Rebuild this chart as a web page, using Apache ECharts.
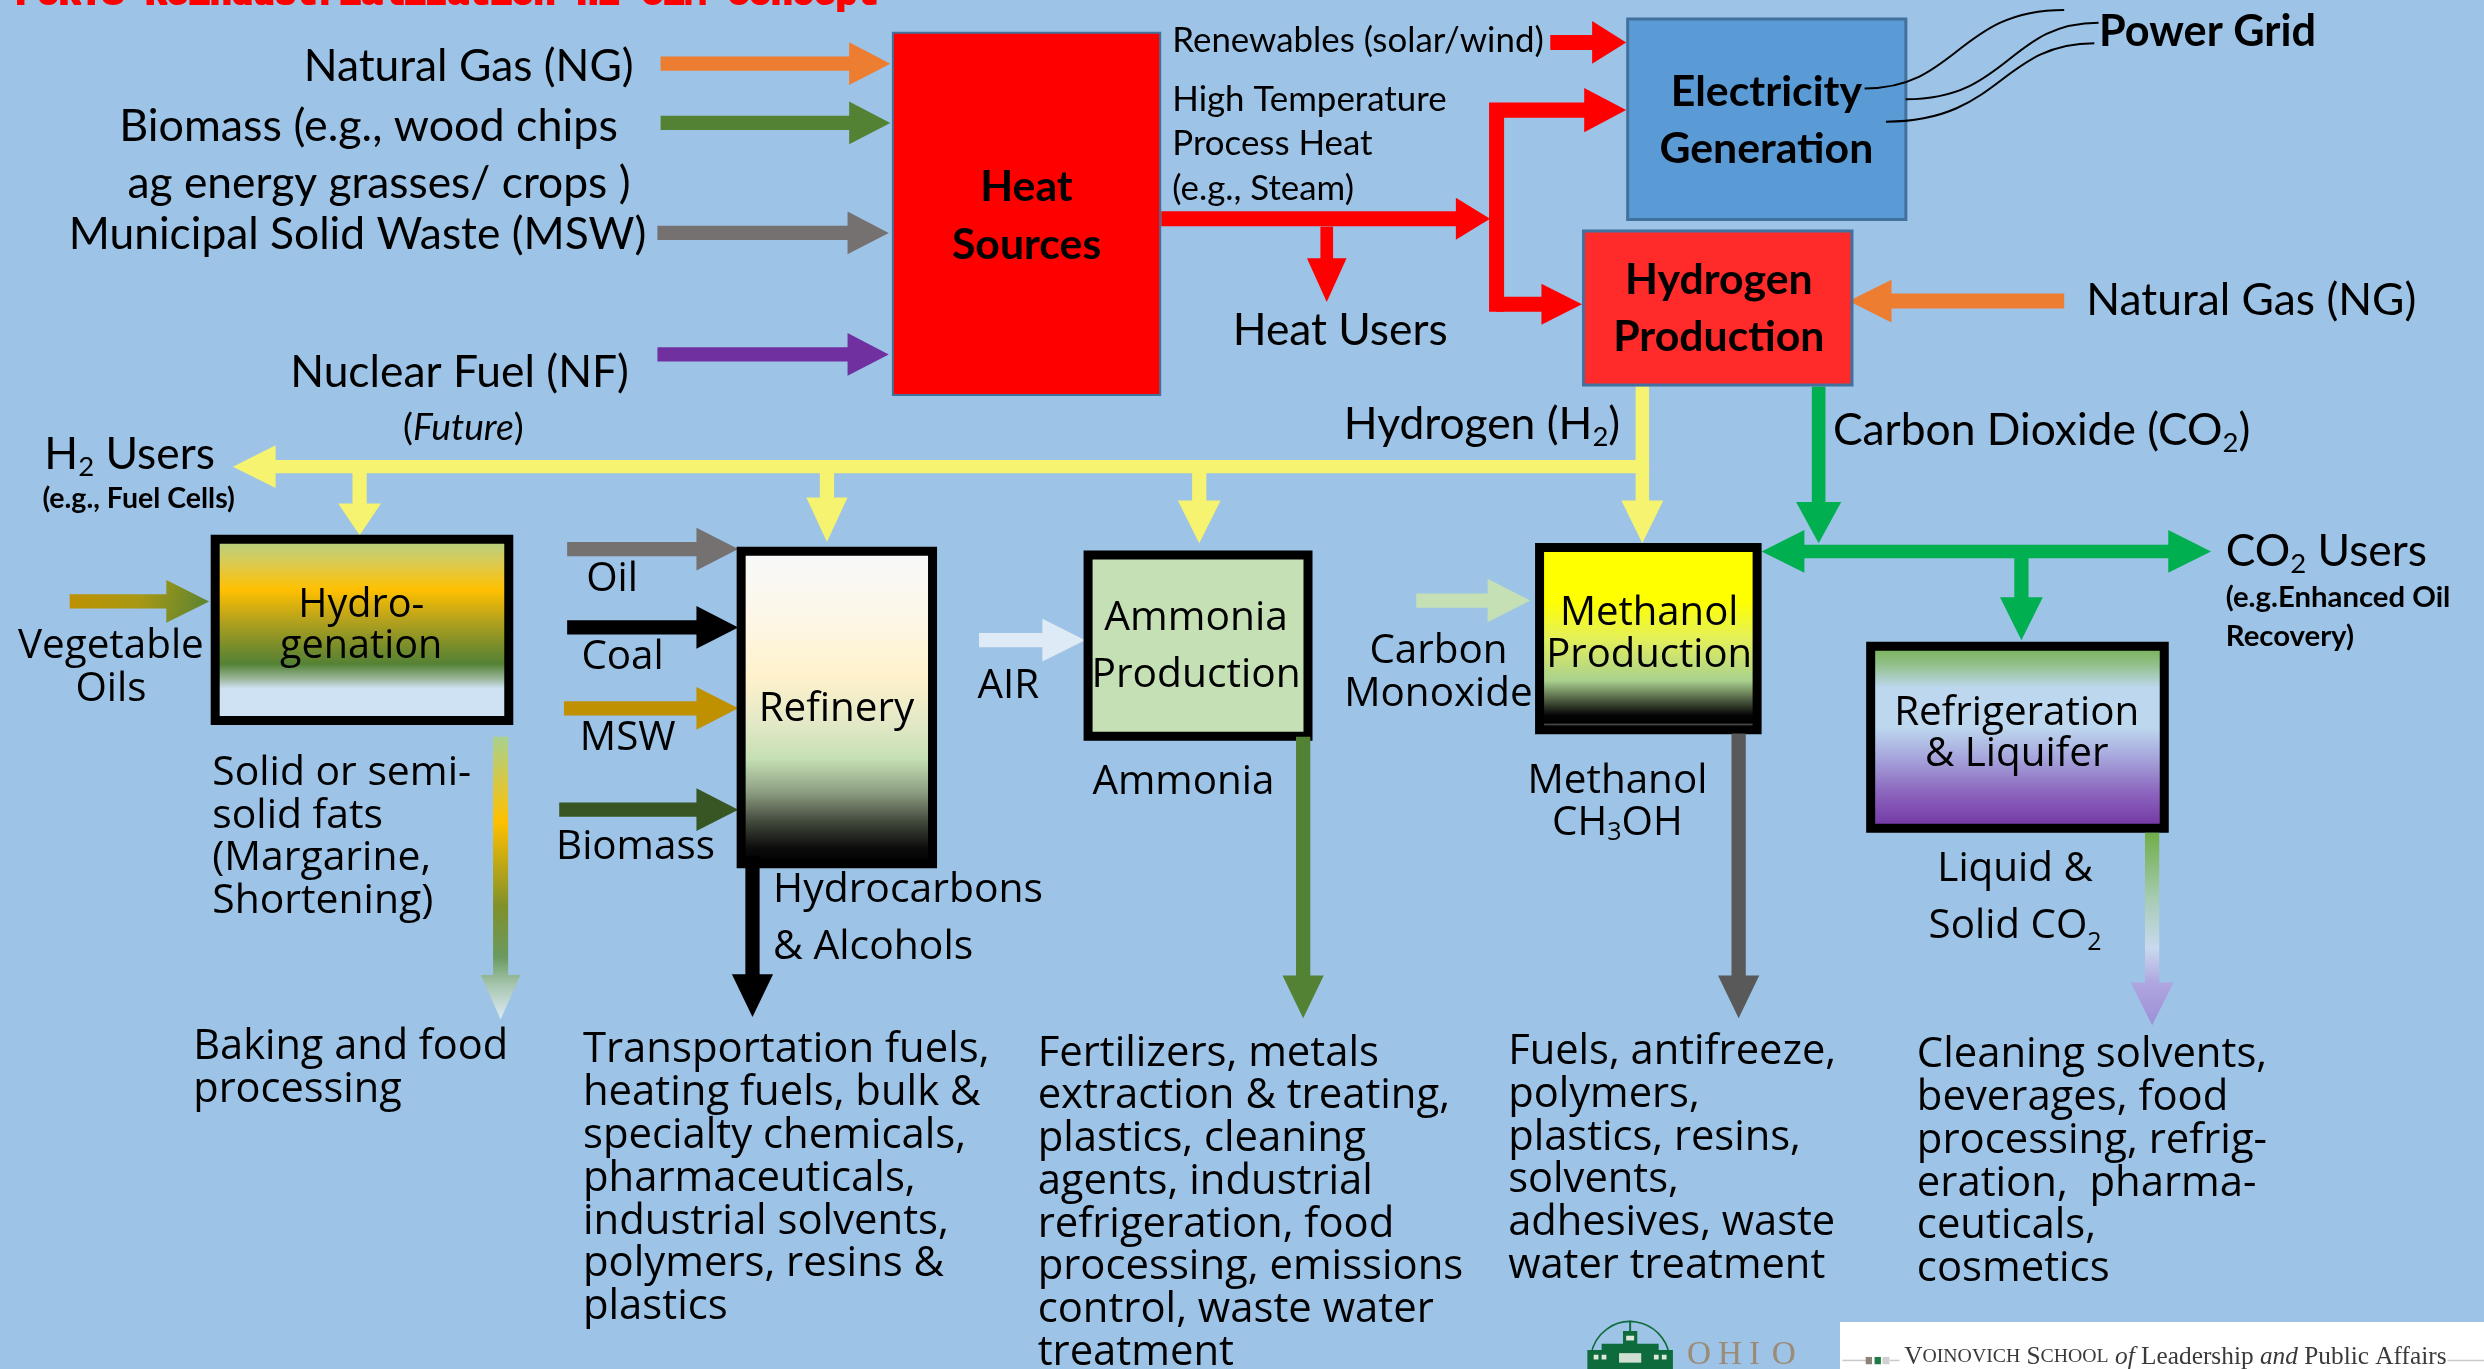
<!DOCTYPE html>
<html><head><meta charset="utf-8">
<script src="https://cdn.jsdelivr.net/npm/echarts@6/dist/echarts.min.js"></script>
<style>html,body{margin:0;padding:0;background:#9DC3E6;overflow:hidden}#c{width:2484px;height:1369px;}</style>
</head><body><div id="c"></div>
<script>
// ---------- diagram content (text values) ----------
const title = 'PORTS Reindustrialization H2 CEM Concept';
const heatFeeds = ['Natural Gas (NG)', 'Biomass (e.g., wood chips', 'ag energy grasses/ crops )', 'Municipal Solid Waste (MSW)', 'Nuclear Fuel (NF)', '({i|Future})'];
const processes = ['Heat\nSources', 'Electricity\nGeneration', 'Hydrogen\nProduction', 'Hydro-\ngenation', 'Refinery', 'Ammonia\nProduction', 'Methanol\nProduction', 'Refrigeration\n& Liquifer'];
const heatOutputs = ['Renewables (solar/wind)', 'High Temperature', 'Process Heat', '(e.g., Steam)', 'Heat Users', 'Power Grid', 'Natural Gas (NG)'];
const streams = ['Hydrogen (H{s|2})', 'Carbon Dioxide (CO{s|2})', 'H{s|2} Users', '(e.g., Fuel Cells)', 'CO{s|2} Users', '(e.g.Enhanced Oil\nRecovery)'];
const refineryFeeds = ['Oil', 'Coal', 'MSW', 'Biomass'];
const processFeeds = ['Vegetable\nOils', 'AIR', 'Carbon\nMonoxide'];
const products = ['Solid or semi-\nsolid fats\n(Margarine,\nShortening)', 'Hydrocarbons\n& Alcohols', 'Ammonia', 'Methanol\nCH{s|3}OH', 'Liquid &\nSolid CO{s|2}'];
const endUses = [
  'Baking and food\nprocessing',
  'Transportation fuels,\nheating fuels, bulk &\nspecialty chemicals,\npharmaceuticals,\nindustrial solvents,\npolymers, resins &\nplastics',
  'Fertilizers, metals\nextraction & treating,\nplastics, cleaning\nagents, industrial\nrefrigeration, food\nprocessing, emissions\ncontrol, waste water\ntreatment',
  'Fuels, antifreeze,\npolymers,\nplastics, resins,\nsolvents,\nadhesives, waste\nwater treatment',
  'Cleaning solvents,\nbeverages, food\nprocessing, refrig-\neration,  pharma-\nceuticals,\ncosmetics'
];
const footer = ['{c|V}{s|OINOVICH} {c|S}{s|CHOOL} {i|of} {n|Leadership} {i|and} {n|Public Affairs}', ['O','H','I','O']];

// ---------- layout (diagram units: 1568 x 864 space) ----------
const FC = "Lato, 'Liberation Sans', sans-serif";
const FS = "'Open Sans', 'Noto Sans', sans-serif";
const els = [];
const T = (s, x, y, o) => els.push(Object.assign({t: 'text', s, x, y}, o || {}));
const A = (pts, c, o) => els.push(Object.assign({t: 'arrow', pts, c, w: 9, hl: 27, hw: 27}, o || {}));
const B = (x0, y0, x1, y1, o) => els.push(Object.assign({t: 'box', x0, y0, x1, y1}, o || {}));

// title (clipped by top edge)
T(title, 10, -3, {fs: 22.7, ff: "'Liberation Mono','DejaVu Sans Mono',monospace", fw: 'bold', fill: '#FF0000', al: 'left', heavy: true});

// heat feed arrows
A([[417, 40.2], [562, 40.2]], '#ED7D31', {hl: 26});
A([[417, 77.6], [562, 77.6]], '#548235', {hl: 26});
A([[415, 147], [561, 147]], '#767171', {hl: 26});
A([[415, 223.7], [561, 223.7]], '#7030A0', {hl: 26});
// red heat network
A([[978.6, 26.8], [1026.5, 26.8]], '#FF0000', {w: 9.5, hl: 21.5, hw: 27});
A([[733, 138], [940.6, 138]], '#FF0000', {w: 9.5, hl: 21.6, hw: 26.5});
A([[944.7, 196.8], [944.7, 69.5], [1026.5, 69.5]], '#FF0000', {w: 9.5, hl: 26.5, hw: 28});
A([[944.7, 192], [998.6, 192]], '#FF0000', {w: 9.5, hl: 25.6, hw: 26});
A([[837.5, 143], [837.5, 190.6]], '#FF0000', {w: 8, hl: 27.6, hw: 25});
// natural gas into hydrogen production
A([[1303, 190], [1167, 190]], '#ED7D31', {w: 9.5, hl: 27, hw: 27});
// hydrogen network
const Y = '#F5F36F';
A([[1036.7, 244], [1036.7, 294.5], [147, 294.5]], Y, {w: 8.5, hl: 27, hw: 27});
A([[1036.7, 292], [1036.7, 342.8]], Y, {w: 8.5, hl: 27, hw: 26.5});
A([[757, 294.5], [757, 342.8]], Y, {w: 9, hl: 27, hw: 27});
A([[522, 294.5], [522, 342]], Y, {w: 9, hl: 28, hw: 26});
A([[227, 294.5], [227, 337.8]], Y, {w: 9, hl: 20, hw: 27});
// CO2 network
const G = '#00B050';
A([[1148, 244], [1148, 342.8]], G, {w: 8.6, hl: 26, hw: 28.5});
A([[1112, 348], [1395.7, 348]], G, {w: 8.5, hl: 27, hw: 27, both: true});
A([[1276, 348], [1276, 404]], G, {w: 9, hl: 27, hw: 27});
// refinery feeds
A([[358, 346.5], [466, 346.5]], '#767171', {hl: 26.4});
A([[358, 396], [466, 396]], '#000000', {hl: 26.4});
A([[356, 447], [466, 447]], '#BF9000', {hl: 26.4});
A([[353, 511], [466, 511]], '#375623', {hl: 26.4});
// process feeds
A([[618, 404], [685, 404]], '#DEEBF7', {hl: 27});
A([[894, 379], [966, 379]], '#C5E0B4', {hl: 27, hw: 27.5});
A([[44, 379.6], [132, 379.6]], null, {hl: 27, grad: [[44, 366], [132, 393], [[0, '#BF9000'], [0.5, '#A89814'], [1, '#548235']]]});

// boxes
B(563, 20, 733, 250, {fill: '#FF0000', stroke: '#41719C', lw: 2});
B(1026.5, 11, 1204, 139.5, {fill: '#5B9BD5', stroke: '#41719C', lw: 3});
B(998.6, 144.8, 1170, 244, {fill: '#FF2A2A', stroke: '#41719C', lw: 3});
B(133, 337.5, 324, 457.5, {stroke: '#000', lw: 9, grad: [[0, '#A9D18E'], [0.14, '#D9CB55'], [0.29, '#FFC000'], [0.45, '#B5A21D'], [0.6, '#748B2C'], [0.68, '#548235'], [0.76, '#9DB99F'], [0.81, '#CFE2F3'], [1, '#CFE2F3']]});
B(465, 345, 591.5, 548, {stroke: '#000', lw: 9, grad: [[0, '#F7F9FB'], [0.2, '#FCF7EA'], [0.4, '#FFF2CC'], [0.55, '#E3E8C6'], [0.66, '#C5E0B4'], [0.76, '#8FA083'], [0.86, '#3E4539'], [0.94, '#0A0A0A'], [1, '#000000']]});
B(684, 347.5, 828.5, 467.5, {stroke: '#000', lw: 9, fill: '#C5E0B4'});
B(969, 342.7, 1112, 463.4, {stroke: '#000', lw: 9, grad: [[0, '#FFFF00'], [0.3, '#FFFF00'], [0.5, '#E4F05A'], [0.72, '#A9D18E'], [0.82, '#4F5E42'], [0.9, '#050505'], [0.94, '#000000'], [0.955, '#707070'], [0.97, '#1A1A1A'], [1, '#000000']]});
B(1178, 405, 1369, 525.5, {stroke: '#000', lw: 9, grad: [[0, '#70AD47'], [0.12, '#92C08A'], [0.24, '#BDD7EE'], [0.45, '#BDD7EE'], [0.6, '#A7A8DD'], [0.8, '#8A62BC'], [1, '#7030A0']]});

// product outputs
A([[316, 465], [316, 643.4]], null, {w: 9.5, hl: 28, hw: 25, grad: [[316, 465], [316, 643.4], [[0, '#A9D18E'], [0.3, '#FFC000'], [0.6, '#80902A'], [0.78, '#6A9A60'], [0.88, '#A8C6B0'], [1, '#DEEBF7']]]});
A([[475, 540], [475, 641.8]], '#000000', {w: 9, hl: 27, hw: 26});
A([[822.6, 465], [822.6, 642.7]], '#548235', {w: 9, hl: 27, hw: 26});
A([[1097.5, 463], [1097.5, 642.7]], '#595959', {w: 9, hl: 27, hw: 26});
A([[1358.5, 525.5], [1358.5, 647]], null, {w: 9, hl: 27, hw: 27, grad: [[1358.5, 525.5], [1358.5, 647], [[0, '#70AD47'], [0.35, '#A7CCB5'], [0.6, '#C9D9EE'], [0.78, '#AFA6DF'], [1, '#9E8ED8']]]});

// power grid wires
els.push({t: 'curve', p: [1177, 55.8, 1236, 55.8, 1236, 6.3, 1303, 6.3]});
els.push({t: 'curve', p: [1203, 62.7, 1268, 62.7, 1268, 14.3, 1324.7, 14.3]});
els.push({t: 'curve', p: [1190.5, 76.8, 1263, 76.8, 1263, 27.3, 1322, 27.3]});

// texts: heat feeds
T(heatFeeds[0], 400, 42, {ff: FC, fs: 28, al: 'right'});
T(heatFeeds[1], 390, 80, {ff: FC, fs: 28.3, al: 'right'});
T(heatFeeds[2], 398, 116, {ff: FC, fs: 28, al: 'right'});
T(heatFeeds[3], 408, 148, {ff: FC, fs: 28, al: 'right'});
T(heatFeeds[4], 397, 235, {ff: FC, fs: 28, al: 'right'});
T(heatFeeds[5], 292.5, 270, {ff: FC, fs: 23.5});
// heat outputs
T(heatOutputs[0], 740, 26, {ff: FC, fs: 22, al: 'left'});
T(heatOutputs[1], 740, 63, {ff: FC, fs: 22, al: 'left'});
T(heatOutputs[2], 740, 91, {ff: FC, fs: 22, al: 'left'});
T(heatOutputs[3], 740, 119, {ff: FC, fs: 22, al: 'left'});
T(heatOutputs[4], 846, 209, {ff: FC, fs: 28});
T(heatOutputs[5], 1325, 20, {ff: FC, fs: 27.3, fw: 'bold', al: 'left'});
T(heatOutputs[6], 1317, 190, {ff: FC, fs: 28, al: 'left'});
// process labels
T(processes[0], 648, 136.5, {ff: FC, fs: 27, fw: 'bold', lh: 37});
T(processes[1], 1115, 76, {ff: FC, fs: 27, fw: 'bold', lh: 36});
T(processes[2], 1085, 195, {ff: FC, fs: 27, fw: 'bold', lh: 36});
T(processes[3], 228, 395, {fs: 25, lh: 26});
T(processes[4], 528, 448, {fs: 25.5});
T(processes[5], 755, 408, {fs: 25.7, lh: 36});
T(processes[6], 1041, 400.5, {fs: 25.3, lh: 27});
T(processes[7], 1273, 463, {fs: 25.5, lh: 26});
// streams
T(streams[0], 935.5, 268, {ff: FC, fs: 28});
T(streams[1], 1157, 272, {ff: FC, fs: 28, al: 'left'});
T(streams[2], 28, 287, {ff: FC, fs: 28, al: 'left'});
T(streams[3], 87.5, 315, {ff: FC, fs: 18, fw: 'bold'});
T(streams[4], 1405, 348, {ff: FC, fs: 28, al: 'left'});
T(streams[5], 1405, 389.5, {ff: FC, fs: 18.5, fw: 'bold', al: 'left', lh: 25});
// refinery feeds
T(refineryFeeds[0], 370, 366, {fs: 25.5, al: 'left'});
T(refineryFeeds[1], 367, 415, {fs: 25.5, al: 'left'});
T(refineryFeeds[2], 366, 466, {fs: 25.5, al: 'left'});
T(refineryFeeds[3], 351, 535, {fs: 25.5, al: 'left'});
// process feeds
T(processFeeds[0], 70, 421.5, {fs: 25.5, lh: 27});
T(processFeeds[1], 617, 433, {fs: 25.5, al: 'left'});
T(processFeeds[2], 908, 424.5, {fs: 25.5, lh: 27});
// products
T(products[0], 134, 474.5, {fs: 25.8, lh: 27, al: 'left', va: 'top'});
T(products[1], 488, 580, {fs: 25.8, lh: 36, al: 'left'});
T(products[2], 747, 494, {fs: 25.5});
T(products[3], 1021, 506.5, {fs: 25.5, lh: 27});
T(products[4], 1272, 567, {fs: 25.5, lh: 36});
// end uses
T(endUses[0], 122, 647.5, {fs: 26.2, lh: 27, al: 'left', va: 'top'});
T(endUses[1], 368, 649.5, {fs: 26.4, lh: 27, al: 'left', va: 'top'});
T(endUses[2], 655, 651.5, {fs: 26.4, lh: 27, al: 'left', va: 'top'});
T(endUses[3], 952, 650.5, {fs: 26.3, lh: 27, al: 'left', va: 'top'});
T(endUses[4], 1210, 652.5, {fs: 26.4, lh: 27, al: 'left', va: 'top'});

// footer logos
els.push({t: 'logo'});
T(footer[0], 1202, 856.5, {ff: "'Liberation Serif','DejaVu Serif',serif", fs: 16, al: 'left', fill: '#3A3A3A', foot: true});
const ohioX = [1072.5, 1092, 1107.5, 1126];
footer[1].forEach((ch, i) => T(ch, ohioX[i], 855.5, {ff: "'Liberation Serif','DejaVu Serif',serif", fs: 21, fill: '#9C8B77'}));

// ---------- rendering ----------
function renderItem(params, api) {
  const e = els[params.dataIndex];
  const K = api.getWidth() / 1568;
  const P = (x, y) => api.coord([x, y]);
  const LG = echarts.graphic.LinearGradient;
  if (e.t === 'box') {
    const a = P(e.x0, e.y0), b = P(e.x1, e.y1), h = e.lw / 2;
    const fill = e.grad ? new LG(0, 0, 0, 1, e.grad.map(g => ({offset: g[0], color: g[1]}))) : e.fill;
    return {type: 'rect', shape: {x: a[0] + h, y: a[1] + h, width: b[0] - a[0] - e.lw, height: b[1] - a[1] - e.lw},
      style: {fill, stroke: e.stroke, lineWidth: e.lw}};
  }
  if (e.t === 'arrow') {
    const pts = e.pts.map(p => P(p[0], p[1]));
    const w = e.w * K, hl = e.hl * K, hw = e.hw * K;
    let color = e.c;
    if (e.grad) {
      const g0 = P(e.grad[0][0], e.grad[0][1]), g1 = P(e.grad[1][0], e.grad[1][1]);
      color = new LG(g0[0], g0[1], g1[0], g1[1], e.grad[2].map(g => ({offset: g[0], color: g[1]})), true);
    }
    const head = (tip, from) => {
      const dx = tip[0] - from[0], dy = tip[1] - from[1], L = Math.hypot(dx, dy), ux = dx / L, uy = dy / L;
      const bx = tip[0] - ux * hl, by = tip[1] - uy * hl;
      return {poly: [tip, [bx - uy * hw / 2, by + ux * hw / 2], [bx + uy * hw / 2, by - ux * hw / 2]],
        cut: [tip[0] - ux * (hl - 1), tip[1] - uy * (hl - 1)]};
    };
    const shaft = pts.slice();
    const children = [];
    const hE = head(pts[pts.length - 1], pts[pts.length - 2]);
    shaft[shaft.length - 1] = hE.cut;
    children.push({type: 'polygon', shape: {points: hE.poly}, style: {fill: color}});
    if (e.both) {
      const hS = head(pts[0], pts[1]);
      shaft[0] = hS.cut;
      children.push({type: 'polygon', shape: {points: hS.poly}, style: {fill: color}});
    }
    children.unshift({type: 'polyline', shape: {points: shaft}, style: {stroke: color, lineWidth: w, fill: null, lineJoin: 'miter', lineCap: 'butt'}});
    return {type: 'group', children};
  }
  if (e.t === 'curve') {
    const p = e.p, a = P(p[0], p[1]), c1 = P(p[2], p[3]), c2 = P(p[4], p[5]), b = P(p[6], p[7]);
    return {type: 'bezierCurve', shape: {x1: a[0], y1: a[1], cpx1: c1[0], cpy1: c1[1], cpx2: c2[0], cpy2: c2[1], x2: b[0], y2: b[1]},
      style: {stroke: '#000', lineWidth: 2, fill: null}};
  }
  if (e.t === 'logo') {
    const r0 = P(1161.5, 834.3), r1 = P(1568, 864);
    const gc = '#0E6B3B';
    const R = (x0, y0, x1, y1, fill) => { const a = P(x0, y0), b = P(x1, y1); return {type: 'rect', shape: {x: a[0], y: a[1], width: b[0] - a[0], height: b[1] - a[1]}, style: {fill}}; };
    const L = (x0, y0, x1, y1, stroke, lw) => { const a = P(x0, y0), b = P(x1, y1); return {type: 'line', shape: {x1: a[0], y1: a[1], x2: b[0], y2: b[1]}, style: {stroke, lineWidth: lw}}; };
    const c = P(1029, 859);
    return {type: 'group', children: [
      {type: 'rect', shape: {x: r0[0], y: r0[1], width: r1[0] - r0[0], height: r1[1] - r0[1]}, style: {fill: '#FFFFFF'}},
      L(1163, 858.6, 1178, 858.6, '#C9C9C9', 1.5),
      R(1177.7, 856.4, 1181.7, 861, '#8C8279'),
      R(1183.3, 856.4, 1187.3, 861, '#1F7A45'),
      R(1188.3, 856.4, 1192.7, 861, '#D0D0D0'),
      L(1193, 858.6, 1199, 858.6, '#C9C9C9', 1.5),
      L(1545, 858.6, 1568, 858.6, '#C9C9C9', 1.5),
      {type: 'arc', shape: {cx: c[0], cy: c[1], r: 25 * K, startAngle: Math.PI * 1.05, endAngle: Math.PI * 1.95}, style: {stroke: gc, lineWidth: 1.6, fill: null}},
      R(1002, 852, 1056, 864, gc),
      R(1011, 848, 1047, 852, gc),
      R(1024.5, 840, 1033.5, 849, gc),
      L(1029, 833.5, 1029, 841, gc, 2),
      R(1006, 855, 1009, 858, '#DDE8DD'), R(1011, 855, 1014, 858, '#DDE8DD'),
      R(1044, 855, 1047, 858, '#DDE8DD'), R(1049, 855, 1052, 858, '#DDE8DD'),
      R(1022, 854, 1036, 860, '#CFE0D2'),
      R(1026.5, 843, 1031.5, 846, '#DDE8DD')
    ]};
  }
  // text
  const p = P(e.x, e.y);
  const fs = e.fs * K, ff = e.ff || FS, fw = e.fw || 'normal', fill = e.fill || '#000';
  const lh = (e.lh || e.fs * 1.2) * K;
  let rich;
  if (e.foot) {
    rich = {
      c: {fontSize: fs, fontFamily: ff, fill},
      s: {fontSize: fs * 0.78, fontFamily: ff, fill},
      i: {fontSize: fs, fontFamily: ff, fontStyle: 'italic', fill},
      n: {fontSize: fs, fontFamily: ff, fill}
    };
  } else {
    rich = {
      s: {fontSize: fs * 0.62, lineHeight: fs * 0.62, verticalAlign: 'bottom', fontFamily: ff, fontWeight: fw, fill},
      i: {fontSize: fs, lineHeight: lh, fontFamily: ff, fontStyle: 'italic', fontWeight: fw, fill}
    };
  }
  const style = {text: e.s, x: p[0], y: p[1], fill, fontSize: fs, fontFamily: ff, fontWeight: fw,
    align: e.al || 'center', verticalAlign: e.va || 'middle', lineHeight: lh, rich};
  if (e.heavy) { style.stroke = fill; style.lineWidth = 2.2; }
  return {type: 'text', style};
}

const chart = echarts.init(document.getElementById('c'), null, {renderer: 'canvas'});
chart.setOption({
  backgroundColor: '#9DC3E6',
  animation: false,
  grid: {left: 0, right: 0, top: 0, bottom: 0},
  xAxis: {type: 'value', min: 0, max: 1568, show: false},
  yAxis: {type: 'value', min: 0, max: 864, inverse: true, show: false},
  series: [{type: 'custom', coordinateSystem: 'cartesian2d', clip: false, silent: true,
    data: els.map((e, i) => [0, 0, i]), encode: {x: 0, y: 1}, renderItem}]
});
</script>
</body></html>
